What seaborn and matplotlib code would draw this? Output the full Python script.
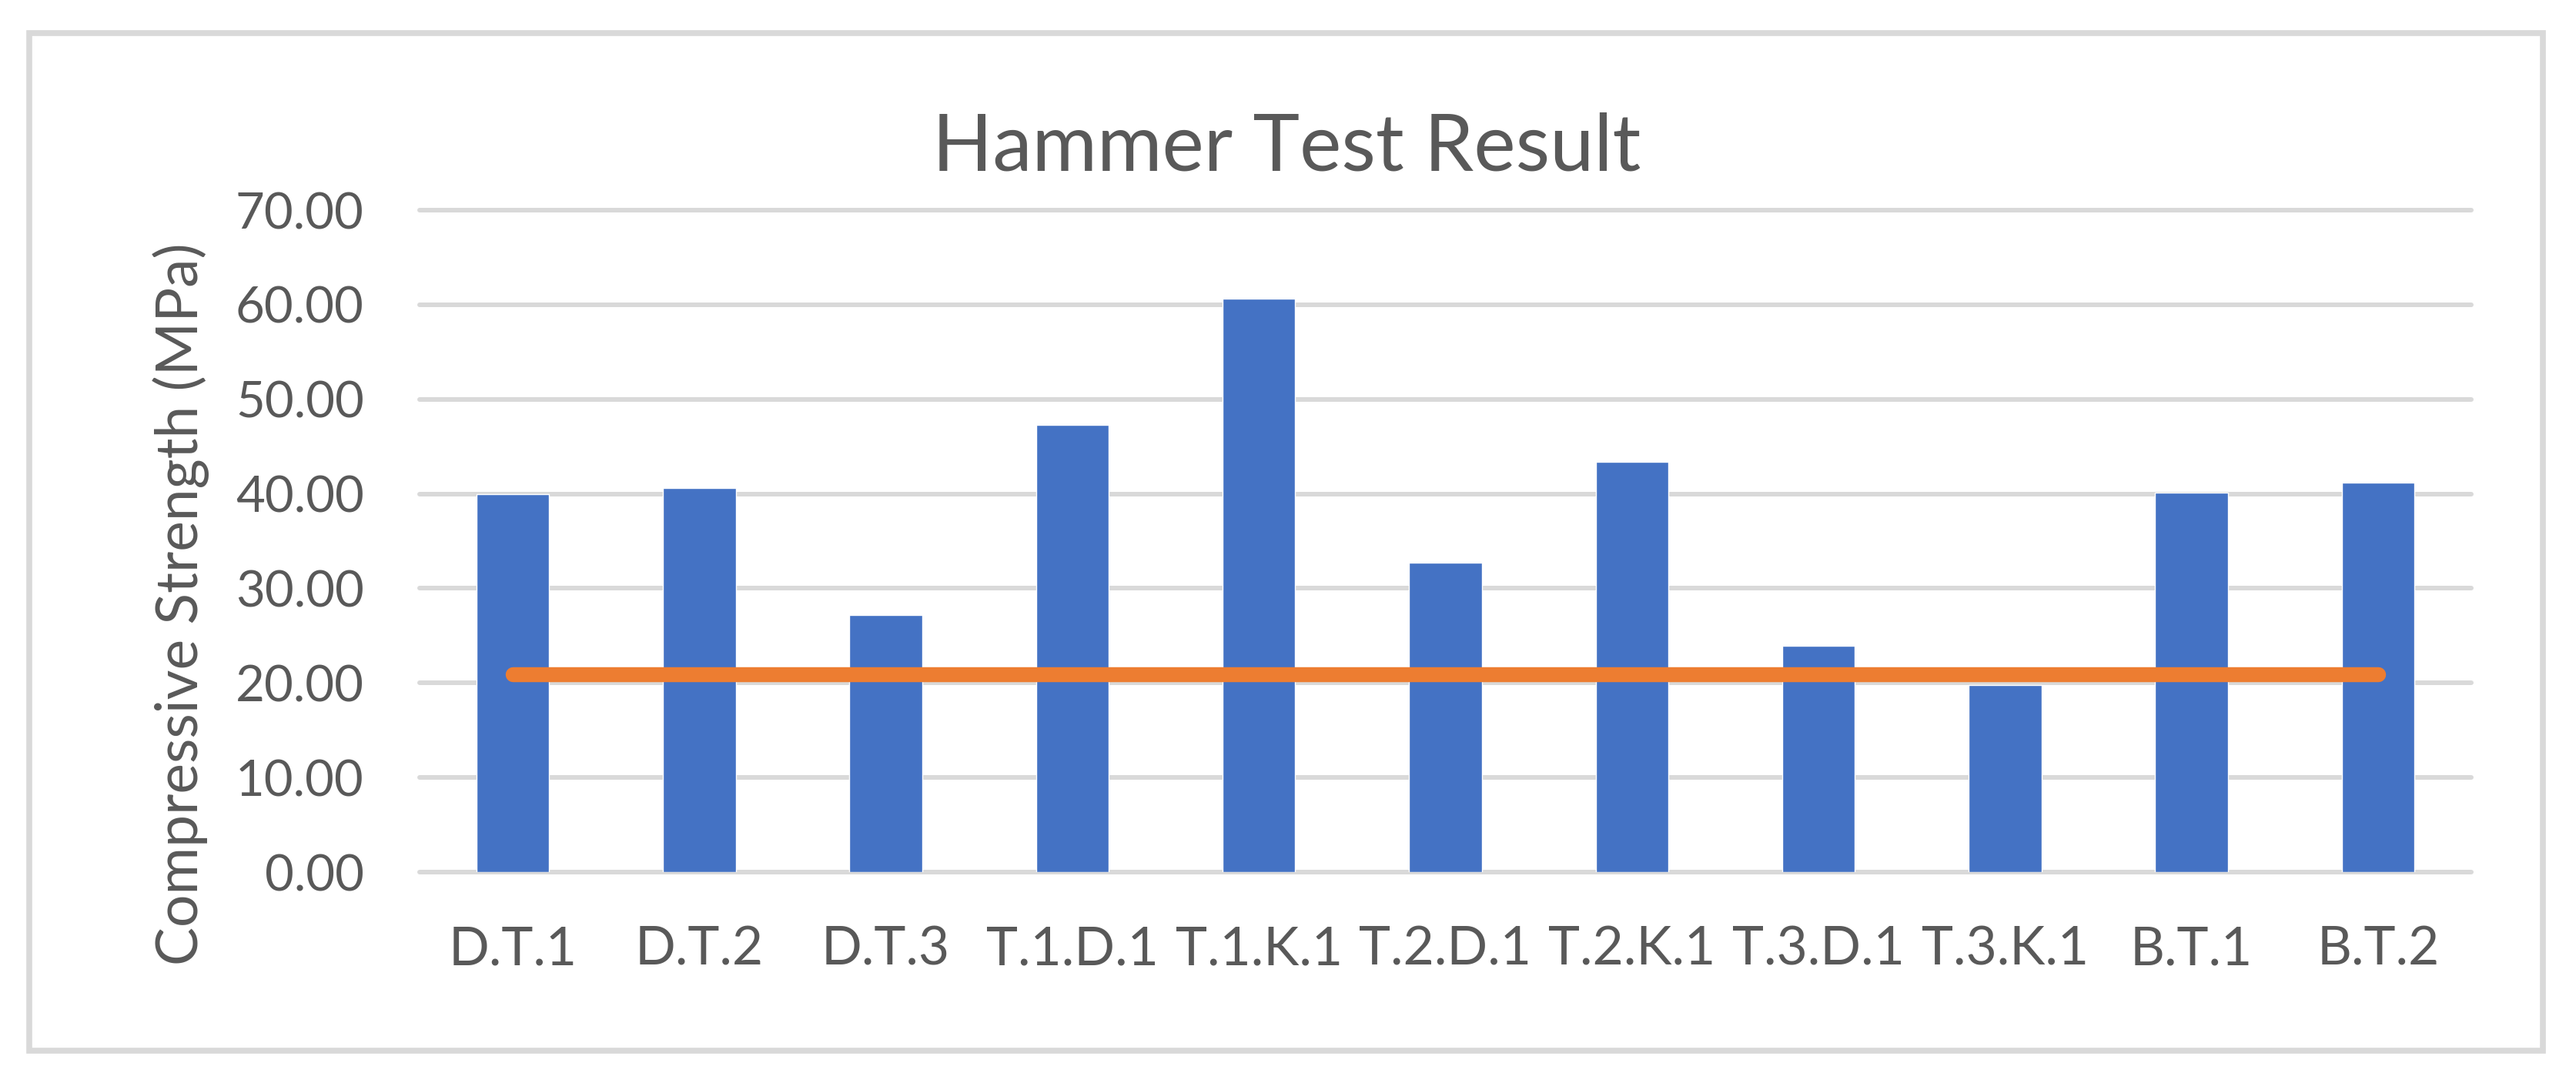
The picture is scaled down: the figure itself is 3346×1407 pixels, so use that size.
import matplotlib
matplotlib.use("Agg")
import matplotlib.pyplot as plt
import matplotlib.patches as mpatches
import seaborn as sns
import pandas as pd

categories = ["D.T.1", "D.T.2", "D.T.3", "T.1.D.1", "T.1.K.1", "T.2.D.1",
              "T.2.K.1", "T.3.D.1", "T.3.K.1", "B.T.1", "B.T.2"]
strength = [40.0, 40.6, 27.2, 47.3, 60.6, 32.7, 43.4, 23.9, 19.8, 40.1, 41.2]
design_strength = [20.9] * len(categories)
yticks = [0, 10, 20, 30, 40, 50, 60, 70]

W, H = 3346, 1407
sns.set_theme(style="white")
plt.rcParams['font.family'] = ['Lato', 'DejaVu Sans']

fig = plt.figure(figsize=(W / 100, H / 100), dpi=100)
fig.patch.set_facecolor("white")

# chart border
fig.add_artist(mpatches.Rectangle((38 / W, 1 - 1365 / H), (3303 - 38) / W, (1365 - 43) / H,
                                  transform=fig.transFigure, fill=False,
                                  edgecolor="#d9d9d9", linewidth=5.5))

ax = fig.add_axes([545 / W, 1 - 1133 / H, (3210 - 545) / W, (1133 - 273) / H])
df = pd.DataFrame({"cat": categories, "val": strength, "ref": design_strength})

sns.barplot(data=df, x="cat", y="val", color="#4472C4", width=0.39,
            saturation=1, ax=ax, zorder=2)
sns.lineplot(data=df, x="cat", y="ref", color="#ED7D31", linewidth=14,
             solid_capstyle="round", ax=ax, zorder=3)

ax.set_xlim(-0.5, len(categories) - 0.5)
ax.set_ylim(0, 70)
ax.set_yticks(yticks)
ax.set_yticklabels([f"{v:.2f}" for v in yticks])
ax.yaxis.grid(True, color="#d9d9d9", linewidth=4.3)
ax.set_axisbelow(True)
for gl in ax.get_ygridlines():
    gl.set_clip_on(False)
for s in ax.spines.values():
    s.set_visible(False)
ax.tick_params(axis="both", length=0, labelcolor="#595959")
ax.tick_params(axis="y", pad=52, labelsize=47)
ax.tick_params(axis="x", pad=50, labelsize=50)
ax.set_xlabel("")
ax.set_ylabel("")

fig.text(257 / W, 1 - 785 / H, "Compressive Strength (MPa)", rotation=90,
         rotation_mode="anchor", ha="center", va="baseline",
         fontsize=54, color="#595959")

fig.text(1671 / W, 1 - 222 / H, "Hammer Test Result", ha="center", va="baseline",
         fontsize=74, color="#595959")

fig.savefig("out.png", dpi=100, facecolor="white")
